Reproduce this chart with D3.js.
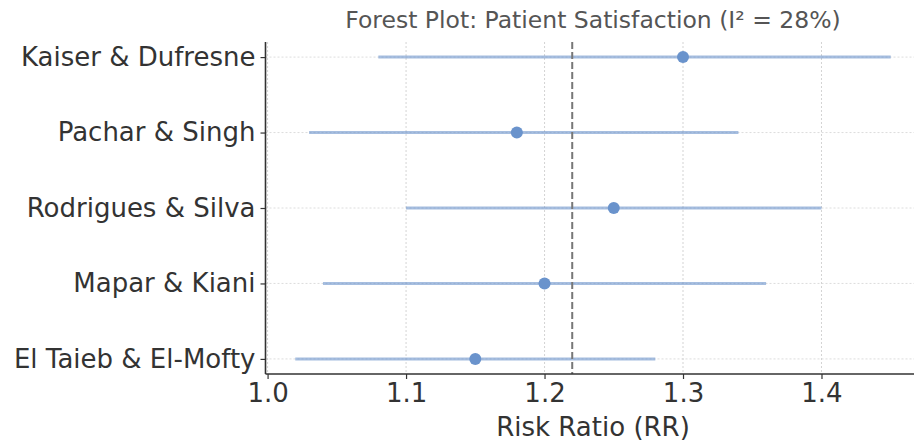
<!DOCTYPE html>
<html>
<head>
<meta charset="utf-8">
<script src="https://cdn.jsdelivr.net/npm/d3@7"></script>
<style>
  html, body { margin: 0; padding: 0; background: #fff; }
  svg { display: block; font-family: "DejaVu Sans", sans-serif; }
</style>
</head>
<body>
<svg id="chart" width="914" height="445"></svg>
<script>
// ── Data ──────────────────────────────────────────────────────────────────────
const studies   = ['Kaiser & Dufresne', 'Pachar & Singh', 'Rodrigues & Silva', 'Mapar & Kiani', 'El Taieb & El-Mofty'];
const rr        = [1.30, 1.18, 1.25, 1.20, 1.15];
const ciLow     = [1.08, 1.03, 1.10, 1.04, 1.02];
const ciHigh    = [1.45, 1.34, 1.40, 1.36, 1.28];
const pooledRR  = 1.22;
const xTicks    = [1.0, 1.1, 1.2, 1.3, 1.4];
const titleText = 'Forest Plot: Patient Satisfaction (I² = 28%)';

// ── Layout ────────────────────────────────────────────────────────────────────
// the axes run a little past the right edge of the picture
const LEFT = 265.5, RIGHT = 920.5, TOP = 42, BOTTOM = 374;
const POINT_COLOR = '#6a93cc';
const LINE_COLOR  = 'rgba(106,147,204,0.6)';
const LABEL_SIZE  = 26;

const svg = d3.select('#chart');

const x = d3.scaleLinear().domain([0.9985, 1.4715]).range([LEFT, RIGHT]);
// row 0 is the bottom study, like matplotlib's y positions
const y = d3.scaleLinear().domain([-0.2, 4.2]).range([BOTTOM, TOP]);
const rowY = i => y(studies.length - 1 - i);

// ── Grid ──────────────────────────────────────────────────────────────────────
const grid = svg.append('g');
grid.selectAll('line.vgrid').data(xTicks).join('line')
  .attr('x1', d => x(d)).attr('x2', d => x(d))
  .attr('y1', TOP).attr('y2', BOTTOM)
  .attr('stroke', '#c8c8c8').attr('stroke-width', 0.8)
  .attr('stroke-dasharray', '2,2');
grid.selectAll('line.hgrid').data(studies).join('line')
  .attr('x1', LEFT).attr('x2', 914)
  .attr('y1', (d, i) => rowY(i)).attr('y2', (d, i) => rowY(i))
  .attr('stroke', '#d4d4d4').attr('stroke-width', 0.8)
  .attr('stroke-dasharray', '2,2');

// ── CI lines and points ───────────────────────────────────────────────────────
const marks = svg.append('g');
marks.selectAll('line.ci').data(studies).join('line')
  .attr('x1', (d, i) => x(ciLow[i])).attr('x2', (d, i) => x(ciHigh[i]))
  .attr('y1', (d, i) => rowY(i)).attr('y2', (d, i) => rowY(i))
  .attr('stroke', LINE_COLOR).attr('stroke-width', 3);

// pooled estimate
svg.append('line')
  .attr('x1', x(pooledRR)).attr('x2', x(pooledRR))
  .attr('y1', TOP).attr('y2', BOTTOM)
  .attr('stroke', '#777').attr('stroke-width', 2)
  .attr('stroke-dasharray', '7,3');

marks.selectAll('circle').data(studies).join('circle')
  .attr('cx', (d, i) => x(rr[i])).attr('cy', (d, i) => rowY(i))
  .attr('r', 6).attr('fill', POINT_COLOR);

// ── Axes ──────────────────────────────────────────────────────────────────────
const xAxis = svg.append('g').attr('transform', `translate(0,${BOTTOM})`)
  .call(d3.axisBottom(x).tickValues(xTicks).tickFormat(d3.format('.1f')).tickSize(5).tickPadding(5));
xAxis.select('.domain').attr('d', `M${LEFT},0H914`).attr('stroke', '#333').attr('stroke-width', 1.6);
xAxis.selectAll('.tick line').attr('stroke', '#333').attr('stroke-width', 1.2);
xAxis.selectAll('.tick text').attr('font-size', LABEL_SIZE).attr('fill', '#333')
  .attr('font-family', '"DejaVu Sans", sans-serif');

const yAxis = svg.append('g').attr('transform', `translate(${LEFT},0)`)
  .call(d3.axisLeft(y).tickValues(d3.range(studies.length))
    .tickFormat(i => studies[studies.length - 1 - i]).tickSize(5).tickPadding(5));
yAxis.select('.domain').attr('d', `M0,${TOP}V${BOTTOM}`).attr('stroke', '#333').attr('stroke-width', 1.6);
yAxis.selectAll('.tick line').attr('stroke', '#333').attr('stroke-width', 1.2);
yAxis.selectAll('.tick text').attr('font-size', LABEL_SIZE).attr('fill', '#333')
  .attr('font-family', '"DejaVu Sans", sans-serif');

// ── Titles ────────────────────────────────────────────────────────────────────
const centerX = (LEFT + RIGHT) / 2;
svg.append('text').attr('x', centerX).attr('y', 28)
  .attr('text-anchor', 'middle').attr('font-size', 23.5).attr('fill', '#555')
  .text(titleText);
svg.append('text').attr('x', centerX).attr('y', 436)
  .attr('text-anchor', 'middle').attr('font-size', LABEL_SIZE).attr('fill', '#333')
  .text('Risk Ratio (RR)');
</script>
</body>
</html>
